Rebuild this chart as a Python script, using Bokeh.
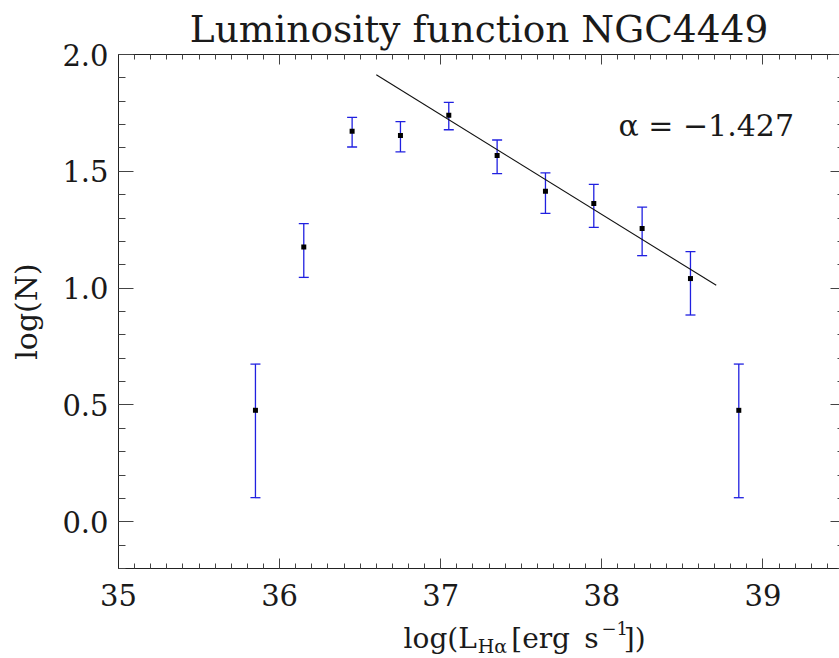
from bokeh.plotting import figure
from bokeh.layouts import column
from bokeh.models import (LinearAxis, SingleIntervalTicker, PrintfTickFormatter, Whisker,
                          TeeHead, ColumnDataSource, Label, Range1d)
from bokeh.embed import file_html
from bokeh.resources import INLINE

# ---- data ----
log_L = [35.85, 36.15, 36.45, 36.75, 37.05, 37.35, 37.65, 37.95, 38.25, 38.55, 38.85]
log_N = [0.477, 1.176, 1.672, 1.653, 1.740, 1.568, 1.415, 1.362, 1.255, 1.041, 0.477]
log_N_lo = [0.103, 1.046, 1.604, 1.583, 1.678, 1.490, 1.320, 1.260, 1.139, 0.885, 0.103]
log_N_hi = [0.675, 1.276, 1.731, 1.713, 1.795, 1.634, 1.493, 1.444, 1.347, 1.156, 0.675]
fit_x = [36.60, 38.71]
fit_y = [1.913, 1.012]
alpha_text = "α = −1.427"
title_text = "Luminosity function NGC4449"
ylabel_text = "log(N)"

X0, X1 = 35.0, 39.475
Y0, Y1 = -0.2, 2.0
FONT = "DejaVu Serif"
TXT = "#1a1a1a"

W = 839
MAIN_H = 617
LEFT, RIGHT, TOP, BOTTOM = 118, 839, 54, 568
def px_x(px):
    return X0 + (px - LEFT) * (X1 - X0) / (RIGHT - LEFT)
def px_y(py):
    return Y0 + (BOTTOM - py) * (Y1 - Y0) / (BOTTOM - TOP)

p = figure(width=W, height=MAIN_H, x_range=Range1d(X0, X1), y_range=Range1d(Y0, Y1),
           output_backend="svg", toolbar_location=None,
           x_axis_location=None, y_axis_location=None,
           min_border_left=LEFT, min_border_right=0, min_border_top=TOP,
           min_border_bottom=MAIN_H - BOTTOM)
p.outline_line_color = None
p.xgrid.visible = False
p.ygrid.visible = False
p.background_fill_color = "white"
p.border_fill_color = "white"

p.title.text = title_text
p.title.align = "center"
p.title.text_font = FONT
p.title.text_font_size = "37.5px"
p.title.text_font_style = "normal"
p.title.text_color = TXT
p.title.standoff = 8

def style_axis(ax, major_in, minor_in, labels=True):
    ax.major_tick_in = major_in
    ax.major_tick_out = 0
    ax.minor_tick_in = minor_in
    ax.minor_tick_out = 0
    ax.axis_line_color = "#222222"
    ax.axis_line_width = 1
    ax.major_tick_line_color = "#444444"
    ax.minor_tick_line_color = "#444444"
    if labels:
        ax.major_label_text_font = FONT
        ax.major_label_text_font_size = "29px"
        ax.major_label_text_color = TXT
    else:
        ax.major_label_text_font_size = "1px"
        ax.major_label_text_color = None
        ax.major_label_standoff = 0

xt = lambda: SingleIntervalTicker(interval=1, num_minor_ticks=10)
yt = lambda: SingleIntervalTicker(interval=0.5, num_minor_ticks=5)

xb = LinearAxis(ticker=xt(), formatter=PrintfTickFormatter(format="%d"))
style_axis(xb, 10, 5)
xb.major_label_standoff = 15
p.add_layout(xb, "below")

xa = LinearAxis(ticker=xt())
style_axis(xa, 10, 5, labels=False)
p.add_layout(xa, "above")

yl = LinearAxis(ticker=yt(), formatter=PrintfTickFormatter(format="%.1f"))
style_axis(yl, 15, 7)
yl.major_label_standoff = 10
yl.axis_label = ylabel_text
yl.axis_label_text_font = FONT
yl.axis_label_text_font_size = "30px"
yl.axis_label_text_font_style = "normal"
yl.axis_label_text_color = TXT
yl.axis_label_standoff = 15
p.add_layout(yl, "left")

yr = LinearAxis(ticker=yt())
style_axis(yr, 9, 2, labels=False)
yr.axis_line_color = None
p.add_layout(yr, "right")

src = ColumnDataSource(dict(x=log_L, y=log_N, lo=log_N_lo, hi=log_N_hi))
EB = "#2020e0"
w = Whisker(base="x", lower="lo", upper="hi", source=src, line_color=EB, line_width=1.3,
            upper_head=TeeHead(size=10, line_color=EB, line_width=1.3),
            lower_head=TeeHead(size=10, line_color=EB, line_width=1.3))
p.add_layout(w)

p.line(fit_x, fit_y, line_color="#111111", line_width=1.1)
p.scatter("x", "y", source=src, marker="square", size=5, fill_color="black", line_color=None)

p.add_layout(Label(x=px_x(618), y=px_y(125), text=alpha_text, text_font=FONT,
                   text_font_size="30px", text_color=TXT, text_baseline="alphabetic"))

# ---- x axis title strip (sub/superscripts as real text pieces) ----
H2 = 658 - MAIN_H
p2 = figure(width=W, height=H2, x_range=Range1d(0, W), y_range=Range1d(H2, 0),
            output_backend="svg", toolbar_location=None,
            x_axis_location=None, y_axis_location=None,
            min_border=0, min_border_left=0, min_border_right=0,
            min_border_top=0, min_border_bottom=0)
p2.outline_line_color = None
p2.xgrid.visible = False
p2.ygrid.visible = False
p2.background_fill_color = "white"
p2.border_fill_color = "white"

base = 638 - MAIN_H
pieces = [
    ("log(L", 417, base, "28px", "right"),
    ("Hα", 418, base + 7, "19px", "left"),
    ("[erg", 457, base, "28px", "left"),
    ("s", 542, base, "28px", "left"),
    ("−1", 562, base - 11, "18px", "left"),
    ("])", 588, base, "28px", "left"),
]
for txt, px, py, fs, al in pieces:
    p2.add_layout(Label(x=px, y=py, text=txt, text_font=FONT, text_font_size=fs,
                        text_color=TXT, text_align=al, text_baseline="alphabetic"))

layout = column(p, p2, spacing=0)
open("out.html", "w").write(file_html(layout, INLINE))
